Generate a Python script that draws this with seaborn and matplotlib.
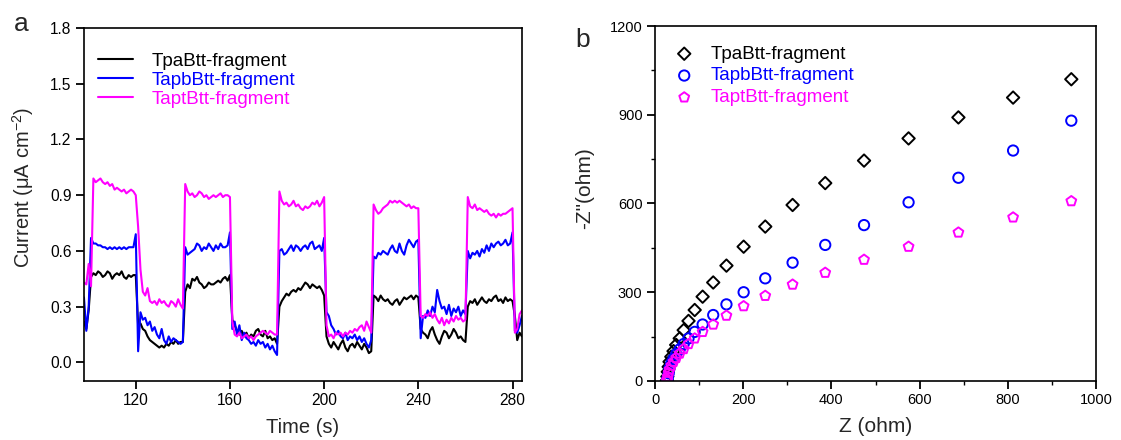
import numpy as np
import pandas as pd
import matplotlib
matplotlib.use("Agg")
import matplotlib.pyplot as plt
import seaborn as sns
from matplotlib.ticker import MultipleLocator

# ---------------- data: panel a (photocurrent, 1 s sampling) ----------------
series_names = ["TpaBtt-fragment", "TapbBtt-fragment", "TaptBtt-fragment"]
series_colors = ["#000000", "#0000FF", "#FF00FF"]

t_start, t_stop = 98, 284   # sampling times (s), 1 s step

current_tpa = [
    0.22, 0.18, 0.28, 0.46,
    0.48, 0.47, 0.49, 0.48, 0.46, 0.47, 0.49, 0.48, 0.45, 0.47, 0.48, 0.47, 0.49, 0.46, 0.45, 0.47, 0.46, 0.47, 0.47,
    0.20, 0.21, 0.18, 0.17, 0.14, 0.12, 0.11, 0.10, 0.09, 0.08, 0.09, 0.08, 0.10, 0.09, 0.11, 0.10, 0.12, 0.10, 0.11, 0.11,
    0.38, 0.42, 0.40, 0.45, 0.44, 0.46, 0.43, 0.42, 0.40, 0.41, 0.43, 0.42, 0.42, 0.43, 0.44, 0.43, 0.45, 0.46, 0.44, 0.47,
    0.23, 0.20, 0.17, 0.15, 0.17, 0.14, 0.16, 0.13, 0.15, 0.14, 0.17, 0.18, 0.15, 0.14, 0.17, 0.13, 0.14, 0.12, 0.13, 0.10,
    0.30, 0.33, 0.35, 0.37, 0.36, 0.38, 0.39, 0.38, 0.40, 0.39, 0.41, 0.43, 0.42, 0.40, 0.42, 0.41, 0.40, 0.41, 0.39, 0.36,
    0.14, 0.10, 0.08, 0.11, 0.09, 0.07, 0.10, 0.12, 0.08, 0.06, 0.09, 0.10, 0.08, 0.11, 0.09, 0.07, 0.10, 0.08, 0.05, 0.06,
    0.36, 0.35, 0.33, 0.36, 0.34, 0.33, 0.34, 0.32, 0.31, 0.33, 0.34, 0.31, 0.33, 0.35, 0.34, 0.35, 0.36, 0.34, 0.36, 0.35,
    0.18, 0.16, 0.15, 0.13, 0.17, 0.19, 0.15, 0.12, 0.10, 0.14, 0.17, 0.16, 0.13, 0.15, 0.18, 0.16, 0.13, 0.14, 0.12, 0.11,
    0.30, 0.33, 0.32, 0.34, 0.31, 0.33, 0.35, 0.33, 0.32, 0.34, 0.33, 0.35, 0.36, 0.33, 0.34, 0.32, 0.35, 0.33, 0.34, 0.33,
    0.25, 0.12, 0.16, 0.14,
]

current_tapb = [
    0.35, 0.17, 0.30, 0.67,
    0.64, 0.64, 0.63, 0.63, 0.62, 0.62, 0.61, 0.62, 0.61, 0.62, 0.61, 0.62, 0.61, 0.62, 0.61, 0.62, 0.62, 0.62, 0.69,
    0.06, 0.27, 0.23, 0.24, 0.20, 0.22, 0.17, 0.19, 0.15, 0.13, 0.18, 0.12, 0.10, 0.14, 0.11, 0.13, 0.12, 0.11, 0.10, 0.11,
    0.62, 0.58, 0.59, 0.60, 0.61, 0.64, 0.63, 0.60, 0.62, 0.61, 0.64, 0.62, 0.60, 0.63, 0.61, 0.64, 0.62, 0.62, 0.63, 0.70,
    0.18, 0.22, 0.15, 0.20, 0.12, 0.16, 0.13, 0.12, 0.10, 0.11, 0.09, 0.12, 0.10, 0.11, 0.08, 0.10, 0.07, 0.09, 0.06, 0.04,
    0.60, 0.61, 0.58, 0.59, 0.61, 0.63, 0.60, 0.63, 0.62, 0.60, 0.62, 0.63, 0.61, 0.64, 0.65, 0.61, 0.62, 0.63, 0.60, 0.67,
    0.27, 0.25, 0.20, 0.18, 0.15, 0.17, 0.14, 0.13, 0.16, 0.12, 0.14, 0.13, 0.15, 0.12, 0.14, 0.11, 0.13, 0.10, 0.08, 0.12,
    0.57, 0.56, 0.59, 0.58, 0.60, 0.59, 0.58, 0.61, 0.63, 0.60, 0.59, 0.64, 0.60, 0.58, 0.63, 0.66, 0.64, 0.62, 0.65, 0.66,
    0.13, 0.25, 0.24, 0.28, 0.25, 0.30, 0.27, 0.39, 0.33, 0.29, 0.30, 0.26, 0.31, 0.25, 0.29, 0.27, 0.30, 0.25, 0.28, 0.26,
    0.60, 0.56, 0.59, 0.58, 0.60, 0.57, 0.61, 0.59, 0.63, 0.60, 0.64, 0.62, 0.64, 0.65, 0.63, 0.64, 0.66, 0.63, 0.64, 0.70,
    0.17, 0.16, 0.20, 0.25,
]

current_tapt = [
    0.43, 0.42, 0.53, 0.41,
    0.99, 0.97, 0.98, 0.99, 0.97, 0.96, 0.97, 0.95, 0.96, 0.93, 0.94, 0.93, 0.92, 0.93, 0.91, 0.92, 0.93, 0.92, 0.90,
    0.73, 0.50, 0.38, 0.36, 0.40, 0.33, 0.32, 0.33, 0.31, 0.34, 0.32, 0.33, 0.31, 0.30, 0.33, 0.32, 0.30, 0.34, 0.31, 0.29,
    0.96, 0.92, 0.90, 0.91, 0.89, 0.90, 0.92, 0.91, 0.89, 0.90, 0.88, 0.89, 0.90, 0.89, 0.90, 0.91, 0.89, 0.90, 0.90, 0.89,
    0.22, 0.15, 0.14, 0.16, 0.13, 0.14, 0.15, 0.13, 0.14, 0.12, 0.14, 0.15, 0.16, 0.17, 0.16, 0.15, 0.17, 0.16, 0.15, 0.15,
    0.92, 0.87, 0.85, 0.86, 0.84, 0.85, 0.87, 0.84, 0.85, 0.83, 0.82, 0.84, 0.83, 0.84, 0.86, 0.85, 0.87, 0.84, 0.86, 0.89,
    0.20, 0.14, 0.15, 0.13, 0.16, 0.15, 0.16, 0.14, 0.16, 0.15, 0.17, 0.16, 0.18, 0.17, 0.19, 0.20, 0.17, 0.22, 0.19, 0.16,
    0.85, 0.82, 0.80, 0.81, 0.83, 0.84, 0.85, 0.87, 0.86, 0.87, 0.86, 0.87, 0.86, 0.85, 0.84, 0.85, 0.83, 0.84, 0.83, 0.83,
    0.25, 0.24, 0.26, 0.25, 0.27, 0.24, 0.26, 0.23, 0.21, 0.24, 0.20, 0.23, 0.21, 0.24, 0.22, 0.25, 0.23, 0.24, 0.22, 0.23,
    0.89, 0.84, 0.83, 0.85, 0.82, 0.83, 0.82, 0.81, 0.82, 0.80, 0.79, 0.80, 0.78, 0.80, 0.79, 0.80, 0.80, 0.81, 0.82, 0.83,
    0.16, 0.18, 0.26, 0.28,
]

time_s = np.arange(t_start, t_stop + 1)

# ---------------- data: panel b (Nyquist plot) ----------------
z_real = [944, 812, 688, 575, 474, 386, 312, 250, 201, 162, 132, 108, 90, 76,
          65, 56, 48, 42, 37, 33, 31, 29, 28, 27]
zim_tpa = [1020, 958, 891, 820, 745, 669, 595, 522, 454, 390, 333, 285, 240, 203,
           172, 144, 122, 101, 82, 65, 48, 31, 15, 2]
zim_tapb = [880, 779, 687, 604, 527, 460, 400, 347, 300, 259, 223, 191, 166, 144,
            125, 107, 91, 75, 60, 43, 26, 12, 5, 0]
zim_tapt = [608, 553, 502, 454, 410, 366, 326, 288, 253, 221, 191, 166, 144, 125,
            108, 93, 78, 65, 52, 39, 28, 15, 5, 1]

# ---------------- style ----------------
sns.set_theme(style="ticks")
plt.rcParams["font.family"] = ["Liberation Sans", "DejaVu Sans"]
plt.rcParams["mathtext.fontset"] = "custom"
plt.rcParams["mathtext.rm"] = "Liberation Sans"
plt.rcParams["mathtext.it"] = "Liberation Sans:italic"
plt.rcParams["axes.linewidth"] = 1.2
plt.rcParams["xtick.direction"] = "out"
plt.rcParams["ytick.direction"] = "out"

fig = plt.figure(figsize=(11.21, 4.40), dpi=100)
ax_a = fig.add_axes([0.0749, 0.1341, 0.3907, 0.8023])
ax_b = fig.add_axes([0.5843, 0.1341, 0.3934, 0.8068])

label_fs = 14.5
legend_fs = 13.5

# ---------------- panel a ----------------
df_a = pd.DataFrame({
    "time": np.concatenate([time_s] * 3),
    "current": np.concatenate([current_tpa, current_tapb, current_tapt]),
    "sample": np.repeat(series_names, len(time_s)),
})
for name, col in zip(series_names, series_colors):
    sub = df_a[df_a["sample"] == name]
    sns.lineplot(data=sub, x="time", y="current", color=col, linewidth=1.5,
                 label=name, ax=ax_a, errorbar=None)

ax_a.set_xlim(98, 284)
ax_a.set_ylim(-0.1, 1.8)
ax_a.xaxis.set_major_locator(MultipleLocator(40))
ax_a.yaxis.set_major_locator(MultipleLocator(0.3))
ax_a.yaxis.set_major_formatter(matplotlib.ticker.FormatStrFormatter("%.1f"))
ax_a.set_xlabel("Time (s)", fontsize=label_fs, labelpad=7)
ax_a.set_ylabel("Current (μA cm$^{-2}$)", fontsize=label_fs)
ax_a.yaxis.set_label_coords(-0.11, 0.547)
ax_a.tick_params(labelsize=11.2, width=1.3, length=5.5, colors="black")
for s in ax_a.spines.values():
    s.set_visible(True)
    s.set_color("black")
ax_a.legend(loc="upper left", bbox_to_anchor=(0.032, 0.93), frameon=False,
            fontsize=legend_fs, handlelength=1.85, handletextpad=1.0,
            labelspacing=0.1, borderpad=0, borderaxespad=0,
            labelcolor="linecolor")
ax_a.text(-0.16, 1.011, "a", transform=ax_a.transAxes, fontsize=19, ha="left", va="center")

# ---------------- panel b ----------------
markers = ["D", "o", "p"]
for name, col, mk, zim in zip(series_names, series_colors, markers,
                              [zim_tpa, zim_tapb, zim_tapt]):
    sns.scatterplot(x=z_real, y=zim, marker=mk, s=55 if mk != "D" else 40,
                    facecolor="none", edgecolor=col, color=col, linewidth=1.4,
                    label=name, ax=ax_b)

ax_b.set_xlim(0, 1000)
ax_b.set_ylim(0, 1200)
ax_b.xaxis.set_major_locator(MultipleLocator(200))
ax_b.xaxis.set_minor_locator(MultipleLocator(100))
ax_b.yaxis.set_major_locator(MultipleLocator(300))
ax_b.yaxis.set_minor_locator(MultipleLocator(150))
ax_b.set_xlabel("Z (ohm)", fontsize=15, labelpad=7)
ax_b.set_ylabel('-Z"(ohm)', fontsize=15)
ax_b.yaxis.set_label_coords(-0.138, 0.544)
ax_b.tick_params(which="major", labelsize=10.5, width=1.3, length=5.5, colors="black")
ax_b.tick_params(which="minor", width=1.0, length=3, colors="black")
for s in ax_b.spines.values():
    s.set_visible(True)
    s.set_color("black")
leg_b = ax_b.legend(loc="upper left", bbox_to_anchor=(0.045, 0.945), frameon=False,
                    fontsize=legend_fs, handlelength=1.0, handletextpad=0.9,
                    labelspacing=0.25, borderpad=0, borderaxespad=0)
for txt, col in zip(leg_b.get_texts(), series_colors):
    txt.set_color(col)
ax_b.text(-0.18, 0.96, "b", transform=ax_b.transAxes, fontsize=19, ha="left", va="center")

fig.savefig("out.png", dpi=100)
